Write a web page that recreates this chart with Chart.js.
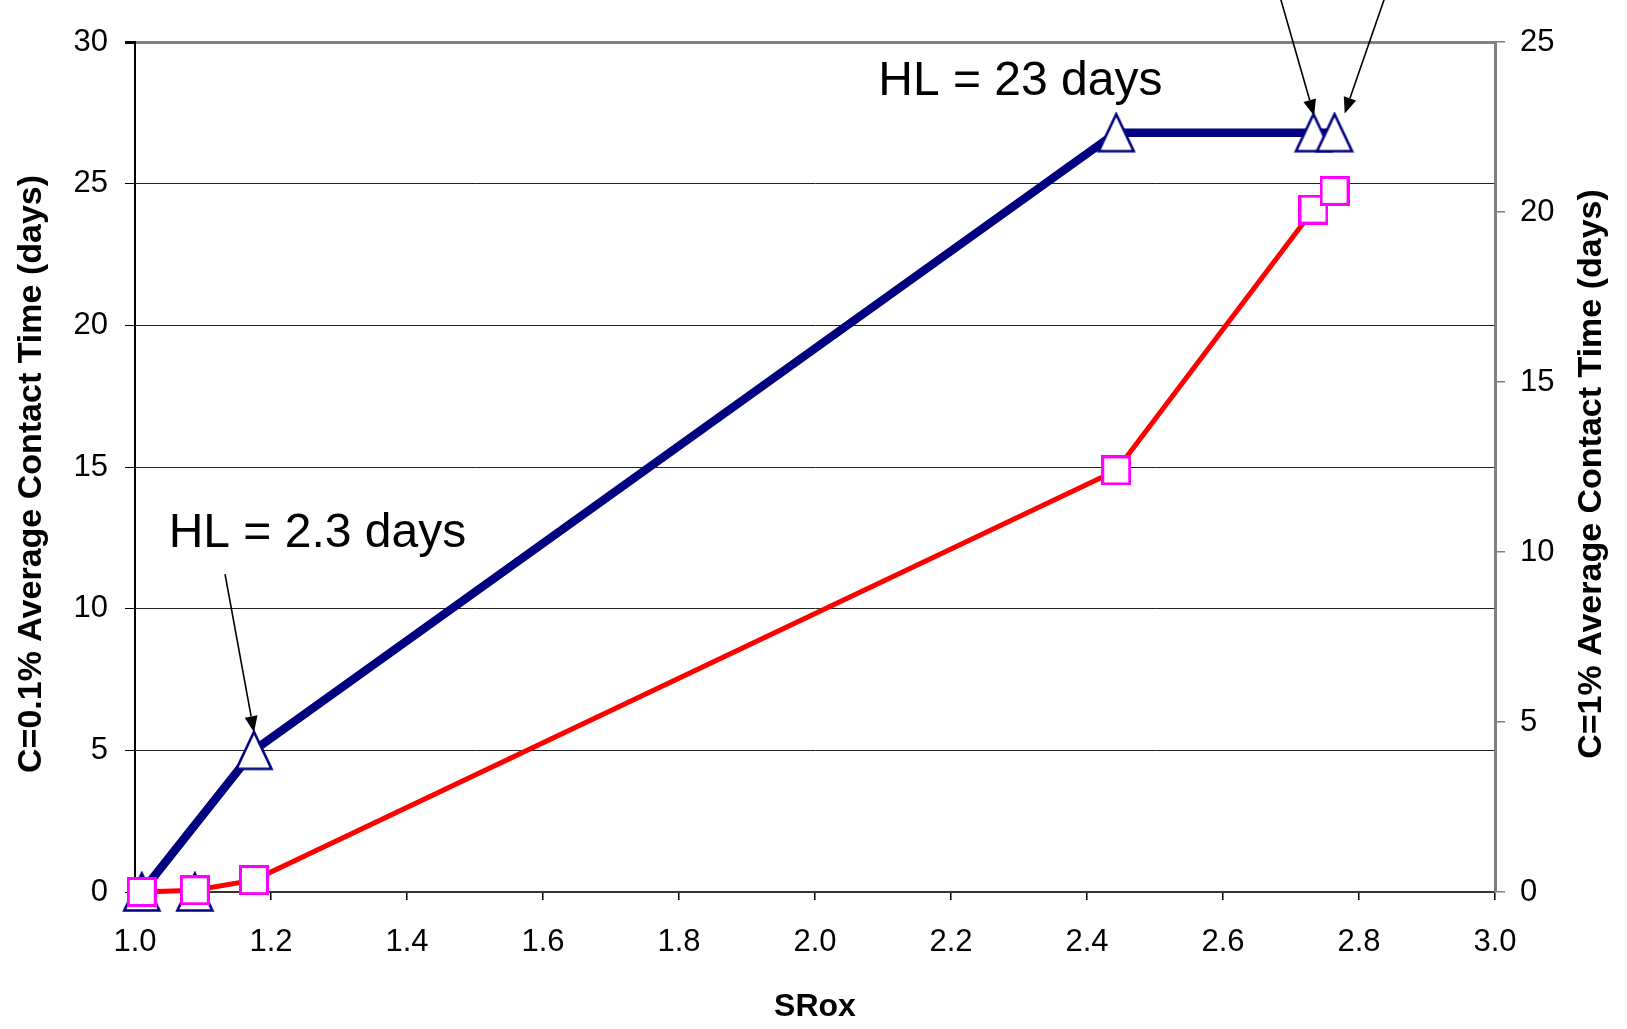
<!DOCTYPE html>
<html>
<head>
<meta charset="utf-8">
<script src="https://cdn.jsdelivr.net/npm/chart.js@4.4.1/dist/chart.umd.min.js"></script>
<style>
  html, body { margin: 0; padding: 0; background: #ffffff; overflow: hidden; }
  #wrap { width: 1627px; height: 1029px; position: relative; }
</style>
</head>
<body>
<div id="wrap"><canvas id="c"></canvas></div>
<script>
// ---- data ----
const srox = [1.01, 1.088, 1.175, 2.443, 2.733, 2.764];
const contactLow = [0, 0, 5.0, 26.8, 26.8, 26.8];        // C=0.1%, left axis
const contactHigh = [0, 0.05, 0.35, 12.4, 20.07, 20.62]; // C=1%, right axis
// order in which the C=0.1% series is joined (the 1.088 point stands alone)
const lowOrder = [1, null, 0, 2, 3, 4, 5];
const xTicksRange = [1.0, 3.0];
const leftRange = [0, 30];
const rightRange = [0, 25];
const xTitle = 'SRox';
const leftTitle = 'C=0.1% Average Contact Time (days)';
const rightTitle = 'C=1% Average Contact Time (days)';
// annotations in data units (left axis)
const annotationTexts = ['HL = 2.3 days', 'HL = 23 days'];
const annotationPos = [[1.0495, 12.18], [2.093, 28.13]];
const arrowStarts = [[1.1324, 11.22], [2.685, 31.5], [2.837, 31.5]];
const arrowEnds = [[1.175, 5.64], [2.734, 27.4], [2.779, 27.48]];

const FONT = "'Liberation Sans', Arial, sans-serif";

function makeTriangle() {
  const c = document.createElement('canvas');
  c.width = 40; c.height = 42;
  const g = c.getContext('2d');
  g.beginPath();
  g.moveTo(20, 2.5);
  g.lineTo(37.5, 39.5);
  g.lineTo(2.5, 39.5);
  g.closePath();
  g.fillStyle = '#ffffff';
  g.fill();
  g.lineWidth = 2.6;
  g.strokeStyle = '#000080';
  g.stroke();
  return c;
}
function makeSquare() {
  const c = document.createElement('canvas');
  c.width = 30; c.height = 30;
  const g = c.getContext('2d');
  g.fillStyle = '#ffffff';
  g.fillRect(1.5, 1.5, 27, 27);
  g.lineWidth = 3;
  g.strokeStyle = '#ff00ff';
  g.strokeRect(1.5, 1.5, 27, 27);
  return c;
}

const overlay = {
  id: 'overlay',
  afterDatasetsDraw(chart) {
    const ctx = chart.ctx;
    const xs = chart.scales.x, ys = chart.scales.y;
    ctx.save();
    ctx.strokeStyle = '#000';
    ctx.fillStyle = '#000';
    ctx.lineWidth = 1.6;
    for (let i = 0; i < arrowStarts.length; i++) {
      const x0 = xs.getPixelForValue(arrowStarts[i][0]);
      const y0 = ys.getPixelForValue(arrowStarts[i][1]);
      const x1 = xs.getPixelForValue(arrowEnds[i][0]);
      const y1 = ys.getPixelForValue(arrowEnds[i][1]);
      const ang = Math.atan2(y1 - y0, x1 - x0);
      const L = 16, W = 6.5;
      const bx = x1 - L * Math.cos(ang), by = y1 - L * Math.sin(ang);
      ctx.beginPath();
      ctx.moveTo(x0, y0);
      ctx.lineTo(bx, by);
      ctx.stroke();
      ctx.beginPath();
      ctx.moveTo(x1, y1);
      ctx.lineTo(bx + W * Math.sin(ang), by - W * Math.cos(ang));
      ctx.lineTo(bx - W * Math.sin(ang), by + W * Math.cos(ang));
      ctx.closePath();
      ctx.fill();
    }
    ctx.font = '48px ' + FONT;
    ctx.textAlign = 'left';
    ctx.textBaseline = 'alphabetic';
    for (let i = 0; i < annotationTexts.length; i++) {
      ctx.fillText(annotationTexts[i],
        xs.getPixelForValue(annotationPos[i][0]),
        ys.getPixelForValue(annotationPos[i][1]));
    }
    ctx.restore();
  },
  afterDraw(chart) {
    const ctx = chart.ctx;
    const a = chart.chartArea;
    const cy = (a.top + a.bottom) / 2 + 7;
    ctx.save();
    ctx.font = 'bold 34px ' + FONT;
    ctx.fillStyle = '#000';
    ctx.textAlign = 'center';
    ctx.textBaseline = 'middle';
    ctx.save();
    ctx.translate(32, cy);
    ctx.rotate(-Math.PI / 2);
    ctx.fillText(leftTitle, 0, 0);
    ctx.restore();
    ctx.translate(1592, cy);
    ctx.rotate(-Math.PI / 2);
    ctx.fillText(rightTitle, 0, 0);
    ctx.restore();
  }
};

const tri = makeTriangle();
const sq = makeSquare();

new Chart(document.getElementById('c'), {
  type: 'line',
  data: {
    datasets: [
      {
        label: 'C=0.1%',
        data: lowOrder.map(i => (i === null ? { x: srox[1], y: null } : { x: srox[i], y: contactLow[i] })),
        yAxisID: 'y',
        borderColor: '#000080',
        borderWidth: 8.5,
        pointStyle: tri,
        pointRadius: 20,
        pointHoverRadius: 20,
        spanGaps: false,
        clip: false,
        order: 2,
        tension: 0
      },
      {
        label: 'C=1%',
        data: srox.map((x, i) => ({ x: x, y: contactHigh[i] })),
        yAxisID: 'y2',
        borderColor: '#ff0000',
        borderWidth: 5,
        pointStyle: sq,
        pointRadius: 15,
        pointHoverRadius: 15,
        clip: false,
        order: 1,
        tension: 0
      }
    ]
  },
  options: {
    responsive: true,
    maintainAspectRatio: false,
    animation: false,
    events: [],
    layout: { padding: { top: 42, left: 0, right: 0, bottom: 0 } },
    plugins: { legend: { display: false }, tooltip: { enabled: false } },
    scales: {
      x: {
        type: 'linear',
        min: xTicksRange[0], max: xTicksRange[1],
        afterFit(s) { s.height = 137; },
        ticks: {
          stepSize: 0.2,
          color: '#000',
          font: { family: FONT, size: 31 },
          padding: 24,
          maxRotation: 0,
          callback: v => Number(v).toFixed(1)
        },
        grid: { drawOnChartArea: false, drawTicks: true, tickLength: 8, color: '#000', tickColor: '#000', lineWidth: 1.5 },
        border: { display: true, color: '#333', width: 2 },
        title: { display: true, text: xTitle, color: '#000', font: { family: FONT, size: 32, weight: 'bold' }, padding: { top: 0, bottom: 3 } }
      },
      y: {
        position: 'left',
        min: leftRange[0], max: leftRange[1],
        afterFit(s) { s.width = 135; },
        ticks: { stepSize: 5, color: '#000', font: { family: FONT, size: 31 }, padding: 17 },
        grid: {
          drawTicks: true, tickLength: 10,
          color: ctx => (ctx.tick && ctx.tick.value === leftRange[1]) ? '#808080' : '#222',
          lineWidth: ctx => (ctx.tick && ctx.tick.value === leftRange[1]) ? 3 : 1,
          tickColor: '#000'
        },
        border: { display: true, color: '#000', width: 2 },
        title: { display: false }
      },
      y2: {
        position: 'right',
        min: rightRange[0], max: rightRange[1],
        afterFit(s) { s.width = 132; },
        ticks: { stepSize: 5, color: '#000', font: { family: FONT, size: 31 }, padding: 15 },
        grid: { drawOnChartArea: false, drawTicks: true, tickLength: 10, color: '#808080', tickColor: '#808080', lineWidth: 1.5 },
        border: { display: true, color: '#808080', width: 3 },
        title: { display: false }
      }
    }
  },
  plugins: [overlay]
});
</script>
</body>
</html>
